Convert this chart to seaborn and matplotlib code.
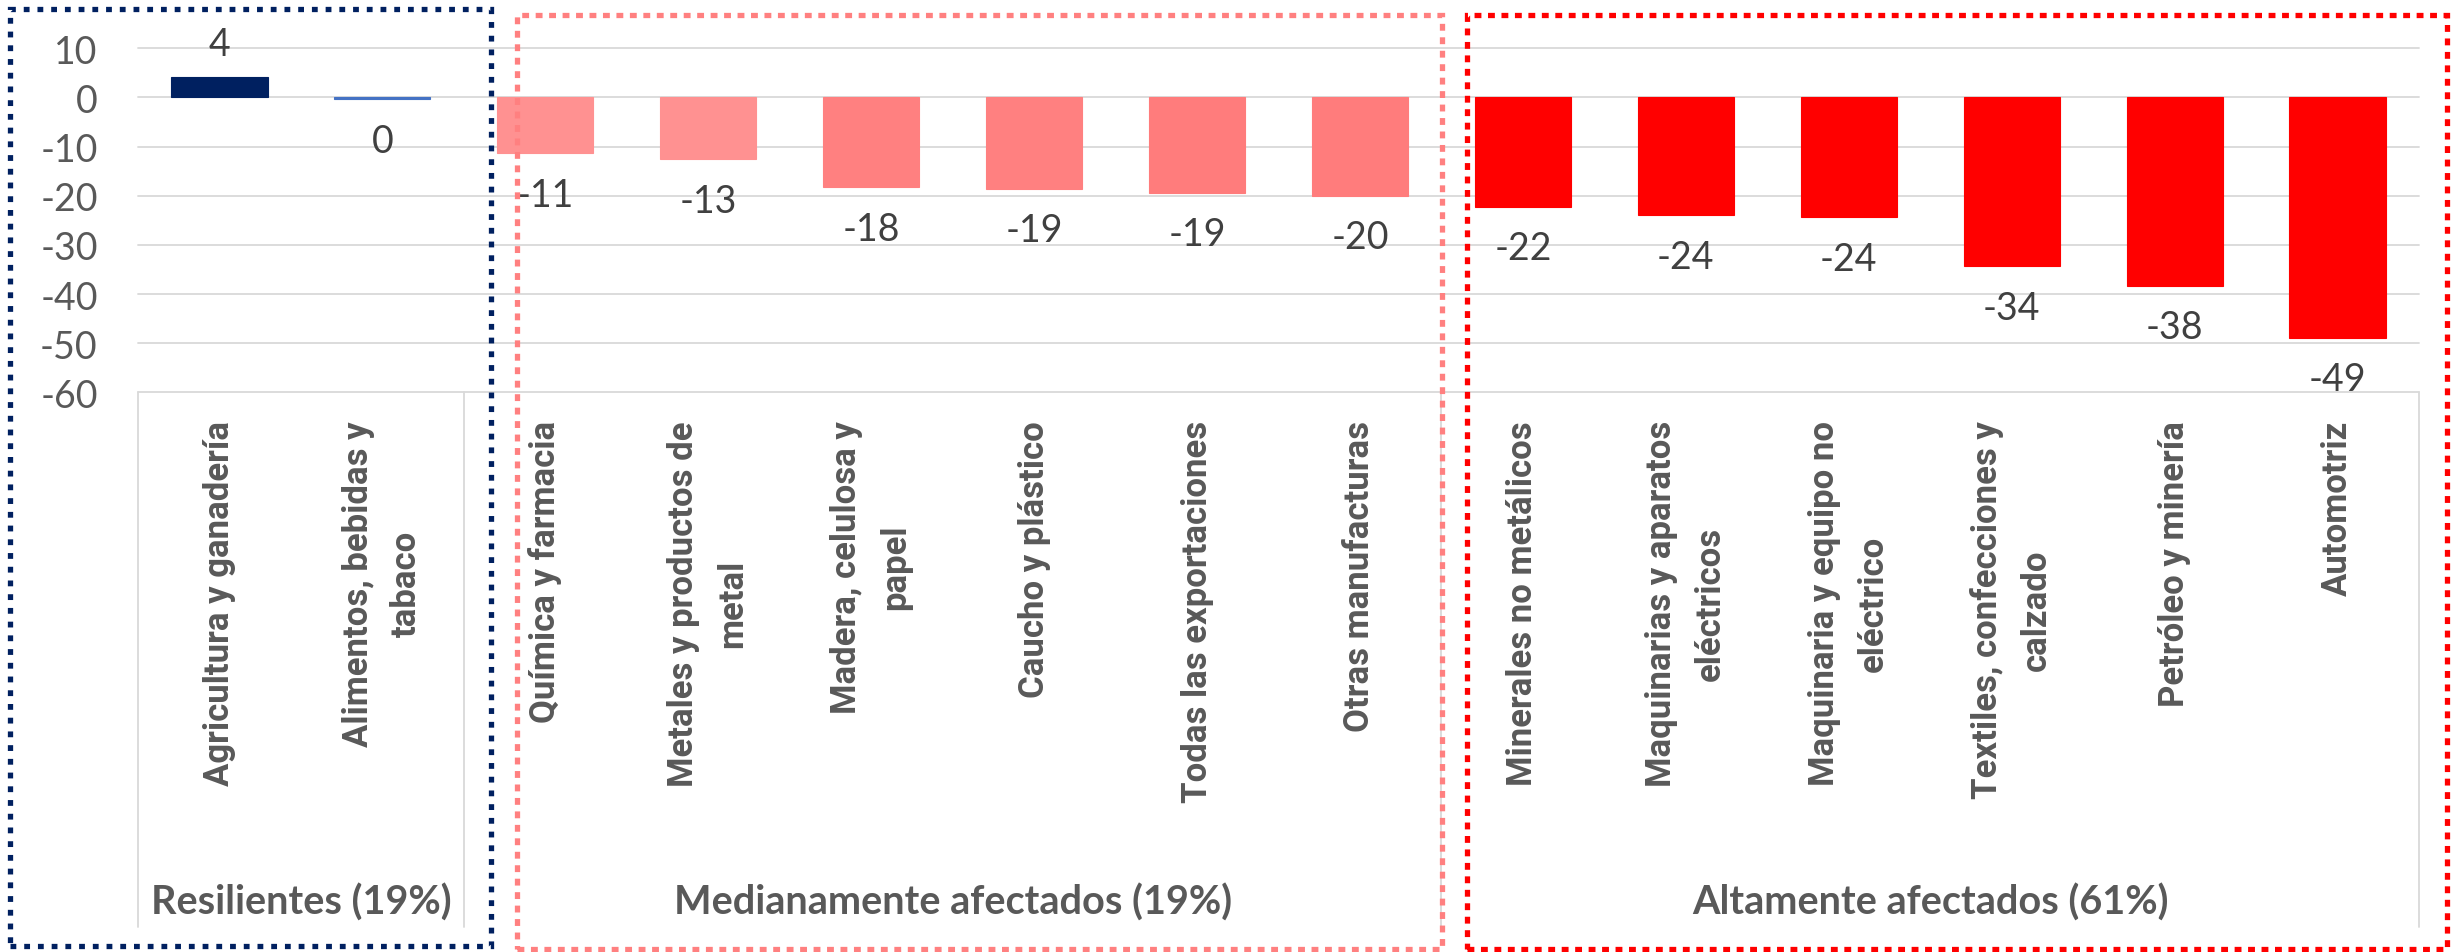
import matplotlib

matplotlib.use("Agg")
import matplotlib.pyplot as plt
import numpy as np
import pandas as pd
import seaborn as sns
from matplotlib.patches import Rectangle

# ---------------------------------------------------------------------------
# Data
# ---------------------------------------------------------------------------

sectors = [
    "Agricultura y ganadería",
    "Alimentos, bebidas y\ntabaco",
    "Química y farmacia",
    "Metales y productos de\nmetal",
    "Madera, celulosa y\npapel",
    "Caucho y plástico",
    "Todas las exportaciones",
    "Otras manufacturas",
    "Minerales no metálicos",
    "Maquinarias y aparatos\neléctricos",
    "Maquinaria y equipo no\neléctrico",
    "Textiles, confecciones y\ncalzado",
    "Petróleo y minería",
    "Automotriz",
]
change = [4.2, -0.4, -11.4, -12.6, -18.3, -18.6, -19.4, -20.0,
          -22.2, -24.0, -24.4, -34.4, -38.3, -48.9]
bar_colors = ["#002060", "#4472C4",
              "#FF9191", "#FF9191", "#FF8080", "#FF8080", "#FF7C7C", "#FF7C7C",
              "#FF0000", "#FF0000", "#FF0000", "#FF0000", "#FF0000", "#FF0000"]

groups = ["Resilientes (19%)", "Medianamente afectados (19%)", "Altamente afectados (61%)"]
group_sizes = [2, 6, 6]

y_ticks = [10, 0, -10, -20, -30, -40, -50, -60]

# ---------------------------------------------------------------------------
# Style
# ---------------------------------------------------------------------------

sns.set_theme(style="white")
plt.rcParams["font.family"] = ["Lato", "DejaVu Sans"]
cat_family = ["Roboto", "DejaVu Sans"]

W, H = 2460, 953
fig = plt.figure(figsize=(W / 100, H / 100), dpi=100)
ax_left, ax_right, ax_top, ax_bot = 138, 2419, 49.3, 393.3
ax = fig.add_axes([ax_left / W, 1 - ax_bot / H, (ax_right - ax_left) / W, (ax_bot - ax_top) / H])

df = pd.DataFrame({"sector": sectors, "change": change})
sns.barplot(data=df, x="sector", y="change", hue="sector", palette=bar_colors,
            legend=False, width=0.59, saturation=1, ax=ax, zorder=2)

# the near-zero bar shows as a thin blue line
for bar, col in zip(ax.patches, bar_colors):
    bar.set_edgecolor(col)
    bar.set_linewidth(0.8)

ax.set_xlim(-0.5, len(sectors) - 0.5)
ax.set_ylim(-60, 10)
ax.set_yticks(y_ticks)
ax.set_yticklabels([str(t) for t in y_ticks])
ax.set_xlabel("")
ax.set_ylabel("")
for s in ax.spines.values():
    s.set_visible(False)
ax.yaxis.grid(True, color="#D9D9D9", lw=1.3, zorder=0)
ax.set_axisbelow(True)
for gl in ax.get_ygridlines():
    gl.set_clip_on(False)

ax.tick_params(axis="y", length=0, pad=29, labelsize=27, labelcolor="#595959")
ax.tick_params(axis="x", length=0, pad=20, labelcolor="#595959")
for lbl in ax.get_xticklabels():
    lbl.set_rotation(90)
    lbl.set_ha("center")
    lbl.set_va("top")
    lbl.set_multialignment("center")
    lbl.set_linespacing(1.6)
    lbl.set_fontfamily(cat_family)
    lbl.set_fontweight("bold")
    lbl.set_fontsize(25)

# data labels
for i, v in enumerate(change):
    off = 15.8 if v > 0 else -37.8
    ax.annotate(f"{round(v):d}", (i, v), xytext=(0, off), textcoords="offset points",
                ha="center", va="baseline", fontsize=27, color="#404040",
                annotation_clip=False)

# multi-level category table
ax_h = ax_bot - ax_top
table_bottom = -(928 - ax_bot) / ax_h
group_baseline = -(915 - ax_bot) / ax_h
xt = ax.get_xaxis_transform()
edges = np.concatenate([[0], np.cumsum(group_sizes)]) - 0.5
for e in edges:
    ax.plot([e, e], [0, table_bottom], color="#D9D9D9", lw=1.3, transform=xt, clip_on=False)
for g, a, b in zip(groups, edges[:-1], edges[1:]):
    ax.text((a + b) / 2, group_baseline, g, transform=xt, ha="center", va="baseline",
            fontsize=28.5, fontweight="bold", color="#595959")

# dotted group frames (pixel boxes: x0, y0, x1, y1 from top-left)
frames = [
    ((10, 10, 491, 947), "#002060", (1.1, 1.5)),
    ((517, 16, 1442, 950), "#FF8080", (1.3, 1.25)),
    ((1467, 16, 2447, 950), "#FF0000", (1.3, 1.25)),
]
for (x0, y0, x1, y1), col, dash in frames:
    fig.add_artist(Rectangle((x0 / W, 1 - y1 / H), (x1 - x0) / W, (y1 - y0) / H,
                             transform=fig.transFigure, fill=False, edgecolor=col,
                             lw=3.8, linestyle=(0, dash), capstyle="butt", zorder=5))

fig.savefig("out.png", dpi=100)
